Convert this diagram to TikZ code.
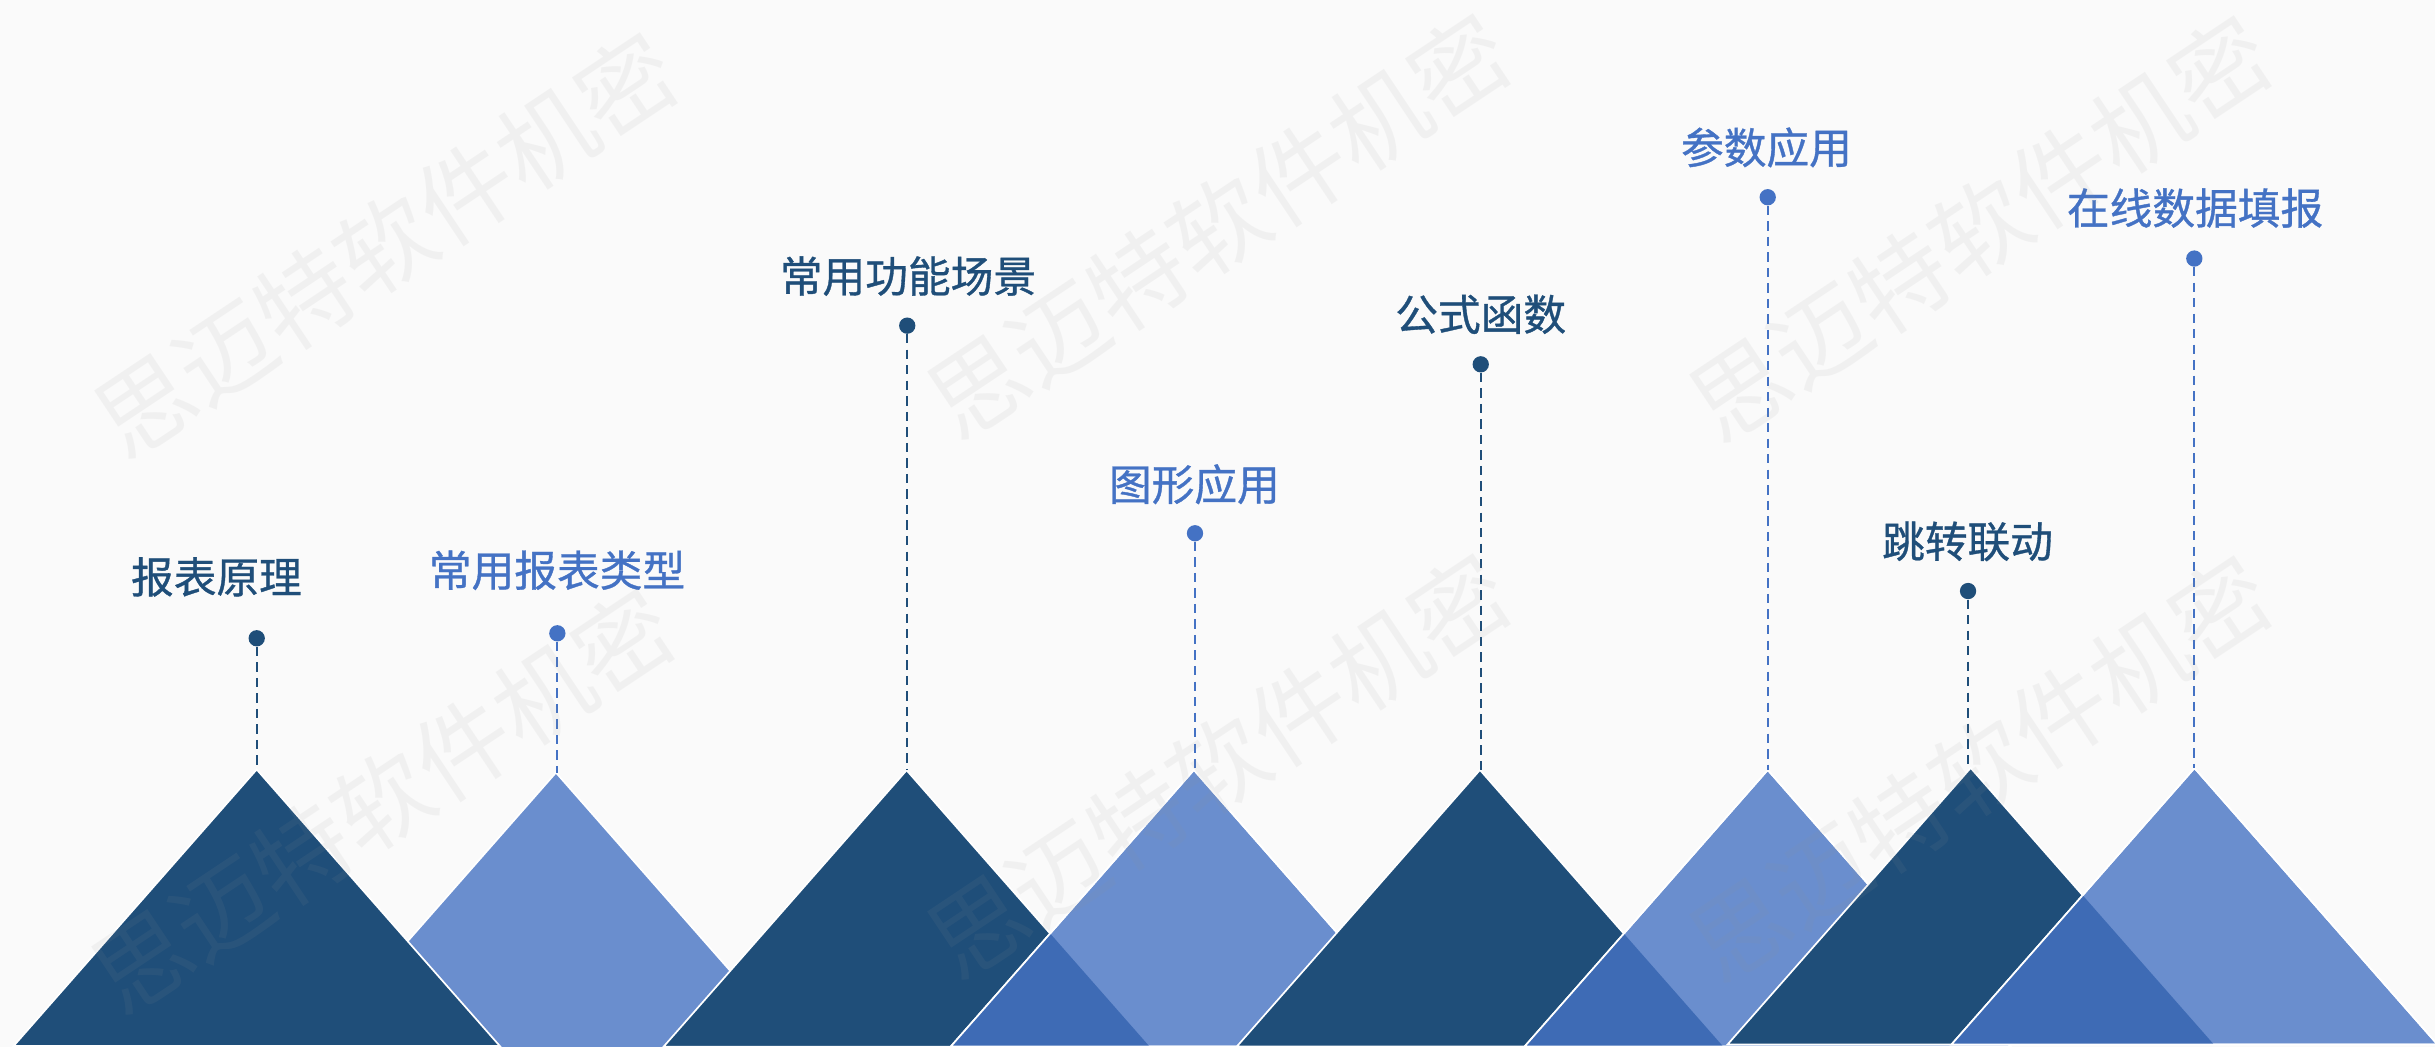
\documentclass[tikz,border=0pt]{standalone}
\usepackage{fontspec}
\newfontfamily\cjk{Noto Sans CJK SC}
\newfontfamily\cjkl[FakeBold=0.8]{Noto Sans CJK SC}
\definecolor{darkb}{HTML}{1F4E79}
\definecolor{lightb}{HTML}{6A8ECE}
\definecolor{midb}{HTML}{3E6BB5}
\definecolor{lblue}{HTML}{4472C4}
\definecolor{bgc}{HTML}{FAFAFA}
\definecolor{wmc}{HTML}{969696}
\newcommand{\tripath}[1]{(#1) ++(-156.5,178) -- (#1) -- ++(156.5,178) -- cycle}
\tikzset{
  darktri/.style={fill=darkb, draw=white, line width=1.1pt},
  lighttri/.style={fill=lightb, draw=white, line width=1.1pt},
  whiteedge/.style={draw=white, line width=1.1pt},
  overlapfill/.style={fill=midb},
  conn/.style={dash pattern=on 6pt off 4pt, line width=1.2pt},
  dotdark/.style={circle, fill=darkb, inner sep=0pt, minimum size=10.5pt},
  dotlight/.style={circle, fill=lblue, inner sep=0pt, minimum size=10.5pt},
  lab/.style={font=\cjkl\fontsize{27.5}{30}\selectfont, anchor=base, inner sep=0pt},
  labdark/.style={lab, text=darkb},
  lablight/.style={lab, text=lblue},
  wmark/.style={font=\cjk\fontsize{62}{70}\selectfont, text=wmc, text opacity=0.09, rotate=33.7, inner sep=0pt}
}
\begin{document}
\begin{tikzpicture}[x=1pt,y=-1pt]
\useasboundingbox (0,0) rectangle (1568,674);
\fill[bgc] (0,0) rectangle (1568,674);
\begin{scope}
\clip (0,0) rectangle (1568,674);
% apexes
\coordinate (D1) at (165.3,495.5);
\coordinate (L1) at (358,497.5);
\coordinate (D2) at (583.8,496);
\coordinate (L2) at (768.8,495.8);
\coordinate (D3) at (953,495.8);
\coordinate (L3) at (1138.3,495.8);
\coordinate (D4) at (1269,494.5);
\coordinate (L4) at (1413.1,494.6);
% triangles
\path[lighttri] \tripath{L1};
\path[darktri] \tripath{D1};
\path[darktri] \tripath{D2};
\path[lighttri] \tripath{L2};
\begin{scope}\clip \tripath{D2}; \path[overlapfill] \tripath{L2}; \end{scope}
\path[whiteedge] \tripath{L2};
\path[darktri] \tripath{D3};
\path[lighttri] \tripath{L3};
\begin{scope}\clip \tripath{D3}; \path[overlapfill] \tripath{L3}; \end{scope}
\path[whiteedge] \tripath{L3};
\path[darktri] \tripath{D4};
\path[lighttri] \tripath{L4};
\begin{scope}\clip \tripath{D4}; \path[overlapfill] \tripath{L4}; \end{scope}
\path[whiteedge] \tripath{L4};
\end{scope}
% dots
\node[dotdark]  (p1) at (165.3,411) {};
\node[dotlight] (p2) at (358.9,407.8) {};
\node[dotdark]  (p3) at (584.2,209.7) {};
\node[dotlight] (p4) at (769.5,343.4) {};
\node[dotdark]  (p5) at (953.5,234.6) {};
\node[dotlight] (p6) at (1138.3,127) {};
\node[dotdark]  (p7) at (1267.3,380.6) {};
\node[dotlight] (p8) at (1413,166.5) {};
% connectors
\draw[conn, darkb]  (p1) -- (p1 |- D1);
\draw[conn, lblue]  (p2) -- (p2 |- L1);
\draw[conn, darkb]  (p3) -- (p3 |- D2);
\draw[conn, lblue]  (p4) -- (p4 |- L2);
\draw[conn, darkb]  (p5) -- (p5 |- D3);
\draw[conn, lblue]  (p6) -- (p6 |- L3);
\draw[conn, darkb]  (p7) -- (p7 |- D4);
\draw[conn, lblue]  (p8) -- (p8 |- L4);
% labels
\node[labdark]  (t1) at (139.4,381.9) {报表原理};
\node[lablight] (t2) at (358.7,377.6) {常用报表类型};
\node[labdark]  (t3) at (584.7,188.2) {常用功能场景};
\node[lablight] (t4) at (769.1,322.3) {图形应用};
\node[labdark]  (t5) at (953.5,212.8) {公式函数};
\node[lablight] (t6) at (1137.5,105.4) {参数应用};
\node[labdark]  (t7) at (1267,359) {跳转联动};
\node[lablight] (t8) at (1413.5,144.4) {在线数据填报};
% watermarks
\begin{scope}
\clip (0,0) rectangle (1568,674);
\node[wmark] (wA) at (248.2,157.8) {思迈特软件机密};
\node[wmark] (wB) at (784.6,145.5) {思迈特软件机密};
\node[wmark] (wC) at (1275,147.1) {思迈特软件机密};
\node[wmark] (wD) at (246.3,515.8) {思迈特软件机密};
\node[wmark] (wE) at (784.6,493.2) {思迈特软件机密};
\node[wmark] (wF) at (1275,494.8) {思迈特软件机密};
\end{scope}
\end{tikzpicture}
\end{document}
